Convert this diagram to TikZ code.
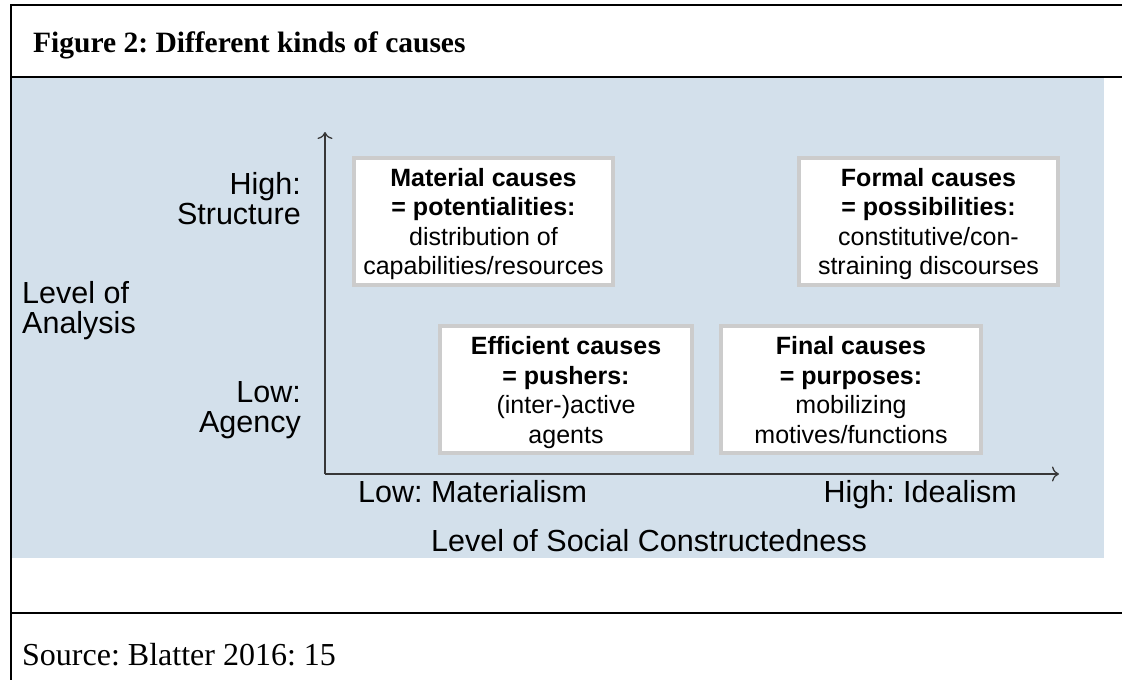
\documentclass[tikz,border=0pt]{standalone}
\usepackage{fontspec}
\setmainfont{Liberation Serif}
\newfontfamily\arial{Liberation Sans}
\usetikzlibrary{arrows.meta}
\frenchspacing

\definecolor{panelblue}{RGB}{211,224,235}
\definecolor{boxgray}{RGB}{204,204,204}
\definecolor{axisgray}{RGB}{55,55,55}

\begin{document}
\begin{tikzpicture}[x=1pt,y=-1pt,
    cause/.style={draw=boxgray,line width=4pt,fill=white,inner sep=0pt,
      minimum height=127pt,text height=107pt,text depth=0pt,align=center,
      font=\arial\fontsize{25}{29.5}\selectfont},
    lbl/.style={inner sep=0pt,font=\arial\fontsize{30.5}{29.5}\selectfont},
    axis/.style={draw=axisgray,line width=1.3pt,-{To[length=7pt,width=15pt]}}]
    \useasboundingbox (0,0) rectangle (1122,680);

    % Table frame
    \fill[panelblue] (12,78) rectangle (1104,558);
    \draw[line width=2.5pt] (1122,5) -- (11,5) -- (11,680);
    \draw[line width=2pt] (11,77) -- (1122,77);
    \draw[line width=2pt] (11,613) -- (1122,613);

    % Caption and source
    \node[anchor=base west,inner sep=0pt,font=\bfseries\fontsize{29.5}{30}\selectfont] (title) at (33,52) {Figure 2: Different kinds of causes};
    \node[anchor=base west,inner sep=0pt,font=\fontsize{32}{32}\selectfont] (source) at (22,665) {Source: Blatter 2016: 15};

    % Axes
    \coordinate (origin) at (325,474);
    \coordinate (ytip) at (325,132);
    \coordinate (xtip) at (1059,474);
    \draw[axis] (origin) -- (ytip);
    \draw[axis] (origin) -- (xtip);

    % Axis labels (base = last line)
    \node[lbl,anchor=base west] (xlow) at (358,502) {Low: Materialism};
    \node[lbl,anchor=base east] (xhigh) at (1017,502) {High: Idealism};
    \node[lbl,anchor=base] (xname) at (649,551) {Level of Social Constructedness};
    \node[lbl,anchor=base east,align=right] (yhigh) at (301,224) {High:\\Structure};
    \node[lbl,anchor=base west,align=left] (yname) at (22,333) {Level of\\Analysis};
    \node[lbl,anchor=base east,align=right] (ylow) at (301,432) {Low:\\Agency};

    % The four kinds of causes
    \node[cause,minimum width=259pt] (material) at (483.5,221)
      {\textbf{Material causes}\\\textbf{= potentialities:}\\distribution of\\capabilities/resources};
    \node[cause,minimum width=259pt] (formal) at (928.5,221)
      {\textbf{Formal causes}\\\textbf{= possibilities:}\\constitutive/con-\\straining discourses};
    \node[cause,minimum width=252pt] (efficient) at (566,389.5)
      {\textbf{Efficient causes}\\\textbf{= pushers:}\\(inter-)active\\agents};
    \node[cause,minimum width=260pt] (final) at (851,389.5)
      {\textbf{Final causes}\\\textbf{= purposes:}\\mobilizing\\motives/functions};
\end{tikzpicture}
\end{document}
